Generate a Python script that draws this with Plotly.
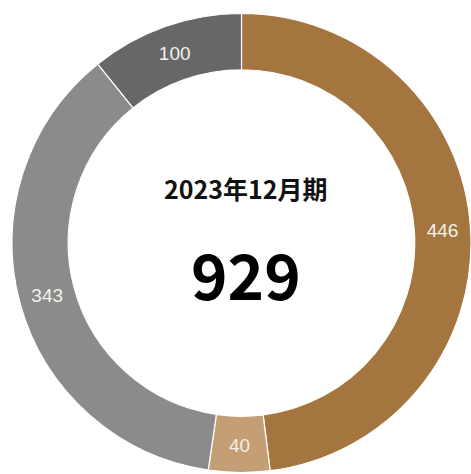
import plotly.graph_objects as go

# Breakdown for the period
segments = ["A", "B", "C", "D"]
counts = [446, 40, 343, 100]
segment_colors = ["#a4753f", "#c49e74", "#8b8b8b", "#676767"]
period_label = "2023年12月期"
total_count = sum(counts)

fig = go.Figure(
    go.Pie(
        labels=segments,
        values=counts,
        hole=0.755,
        sort=False,
        direction="clockwise",
        rotation=0,
        marker=dict(colors=segment_colors, line=dict(color="#ffffff", width=1.2)),
        text=[str(v) for v in counts],
        textinfo="text",
        textposition="inside",
        insidetextorientation="horizontal",
        textfont=dict(family="Liberation Sans, Arial, sans-serif", size=19, color="#f4f1ec"),
        domain=dict(x=[12 / 471, 1.0], y=[0.0, 462 / 474]),
        showlegend=False,
        hoverinfo="skip",
    )
)

fig.add_annotation(
    text=f"<b>{period_label}</b>",
    x=246 / 471, y=1 - 188 / 474, xref="paper", yref="paper",
    showarrow=False,
    font=dict(family="Noto Sans CJK JP", size=25, color="#111111"),
)
fig.add_annotation(
    text=f"<b>{total_count}</b>",
    x=246 / 471, y=1 - 273 / 474, xref="paper", yref="paper",
    showarrow=False,
    font=dict(family="Noto Sans CJK JP", size=62, color="#000000"),
)

fig.update_layout(
    width=471,
    height=474,
    margin=dict(l=0, r=0, t=0, b=0),
    paper_bgcolor="#ffffff",
    plot_bgcolor="#ffffff",
    uniformtext=dict(minsize=19, mode="show"),
)

fig.write_html("out.html")
